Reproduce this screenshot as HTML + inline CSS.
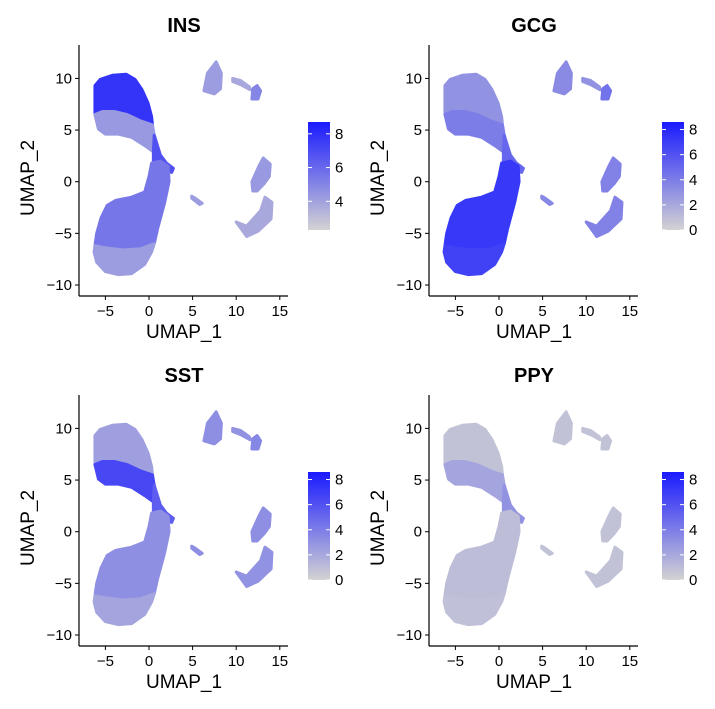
<!DOCTYPE html>
<html><head><meta charset="utf-8"><style>
body{margin:0;background:#fff;font-family:"Liberation Sans",sans-serif}
svg text{font-family:"Liberation Sans",sans-serif}
</style></head><body>
<svg id="c" width="715" height="704" xmlns="http://www.w3.org/2000/svg">
<defs><linearGradient id="g" x1="0" y1="1" x2="0" y2="0"><stop offset="0" stop-color="#d3d3d3"/><stop offset="1" stop-color="#1a1aff"/></linearGradient></defs>
</svg>
<script>
const genes=["INS","GCG","SST","PPY"];
const legendMin=[2.3,0,0,0];
const legendMax=[8.7,8.6,8.6,8.6];
const legendTicks=[[4,6,8],[0,2,4,6,8],[0,2,4,6,8],[0,2,4,6,8]];
const xTicks=[-5,0,5,10,15];
const yTicks=[-10,-5,0,5,10];
const clusterNames=["beta-top","upper-band","neck","lower-lobe","lower-bottom","top-cluster","arc","blob","c-shape","bottom-right","small-dot"];
const clusterShapes=[
 [[-6.2,9.3],[-5.6,9.9],[-4.2,10.3],[-2.6,10.4],[-1.6,9.9],[-0.8,8.9],[-0.1,7.6],[0.3,6.3],[0.4,5.5],[-1,5.9],[-2.5,6.5],[-4,6.8],[-5.3,6.8],[-6.2,6.5]],
 [[-6.2,6.5],[-5.3,6.8],[-4,6.8],[-2.5,6.5],[-1,5.9],[0.4,5.5],[0.6,4.5],[0.9,3.2],[0.5,2.9],[-0.5,3.5],[-2,4.3],[-3.5,4.6],[-5,4.6],[-5.8,5.1]],
 [[0.6,4.5],[1.3,2.6],[2,1.8],[2.8,1.3],[2.6,0.9],[1.6,1.4],[0.5,1.8],[0.5,2.9]],
 [[0.3,1.8],[1.3,2.0],[2.2,1.5],[2.3,0],[1.8,-2],[1,-4.5],[0.6,-6],[-1,-6.5],[-3,-6.6],[-5,-6.4],[-6.2,-6.2],[-6,-5],[-5.5,-3.5],[-4.8,-2.3],[-3.8,-1.8],[-2,-1.5],[-0.5,-1],[0,0.5]],
 [[-6.2,-6.2],[-5,-6.4],[-3,-6.6],[-1,-6.5],[0.6,-6],[0.3,-6.8],[-0.5,-8],[-2,-8.9],[-3.5,-9],[-5,-8.7],[-6,-7.8],[-6.3,-6.8]],
 [[6.3,8.8],[6.7,10.5],[7.7,11.6],[8.3,10.5],[8.2,9],[7.5,8.5]],
 [[9.6,10],[10.5,9.8],[11.5,9.2],[11.6,8.9],[10.5,9.4],[9.6,9.7]],
 [[11.8,8],[11.9,9],[12.4,9.3],[12.8,8.8],[12.5,8]],
 [[11.9,-0.9],[11.8,0],[12.6,1.5],[13.1,2.3],[13.9,1.7],[13.8,0.5],[13.2,-0.2],[12.4,-0.9]],
 [[10,-3.9],[11.2,-5.3],[12.5,-4.8],[14,-3.6],[14.1,-2],[13.3,-1.5],[12.8,-2.8],[11.2,-4.3]],
 [[4.9,-1.4],[5.3,-1.6],[6.1,-2.1],[5.8,-2.2],[4.9,-1.6]]
];
const exprINS=[7.8,4.3,6.8,5.5,4.2,4.2,3.8,5.0,4.3,3.8,4.2];
const exprGCG=[3.0,4.0,5.0,7.2,6.8,3.4,3.0,4.5,3.8,3.8,3.5];
const exprSST=[2.4,6.5,5.5,3.2,2.2,3.2,3.0,3.6,3.2,3.0,3.2];
const exprPPY=[0.8,2.2,3.0,1.0,0.9,0.8,0.8,0.8,0.8,0.8,0.8];
const exprAll=[exprINS,exprGCG,exprSST,exprPPY];

const svg=document.getElementById('c');
const NS="http://www.w3.org/2000/svg";
function mk(t,a,p){const e=document.createElementNS(NS,t);for(const k in a)e.setAttribute(k,a[k]);(p||svg).appendChild(e);return e;}
function col(v,mn,mx){let t=Math.max(0,Math.min(1,(v-mn)/(mx-mn)));const a=[211,211,211],b=[26,26,255];return `rgb(${a.map((c,i)=>Math.round(c+(b[i]-c)*t)).join(',')})`;}
genes.forEach((gn,gi)=>{
 const dx=(gi%2)*350,dy=Math.floor(gi/2)*350;
 const sx=x=>149+8.72*x+dx, sy=y=>181.7-10.33*y+dy;
 const g=mk('g',{});
 
 
 const t=mk('text',{x:184+dx,y:32+dy,'text-anchor':'middle','font-size':20,'font-weight':'bold'},g);t.textContent=gn;
 
 clusterShapes.forEach((s,ci)=>{
  const c=col(exprAll[gi][ci],legendMin[gi],legendMax[gi]);
  const p=mk('polygon',{points:s.map(q=>sx(q[0])+','+sy(q[1])).join(' '),fill:c,stroke:c,'stroke-width':3,'stroke-linejoin':'round'},g);
  
  
 });
 mk('line',{x1:79+dx,y1:45+dy,x2:79+dx,y2:296+dy,stroke:'#000','stroke-width':1.2},g);
 mk('line',{x1:79+dx,y1:296+dy,x2:288+dx,y2:296+dy,stroke:'#000','stroke-width':1.2},g);
 xTicks.forEach(v=>{mk('line',{x1:sx(v),x2:sx(v),y1:296+dy,y2:300+dy,stroke:'#000'},g);
  const l=mk('text',{x:sx(v),y:316+dy,'text-anchor':'middle','font-size':15},g);l.textContent=v<0?'\u2212'+(-v):v;
  });
 yTicks.forEach(v=>{mk('line',{x1:75+dx,x2:79+dx,y1:sy(v),y2:sy(v),stroke:'#000'},g);
  const l=mk('text',{x:72+dx,y:sy(v)+5,'text-anchor':'end','font-size':15},g);l.textContent=v<0?'\u2212'+(-v):v;
  });
 const xt=mk('text',{x:184+dx,y:338+dy,'text-anchor':'middle','font-size':19},g);xt.textContent='UMAP_1';
 
 const yt=mk('text',{x:0,y:0,'text-anchor':'middle','font-size':19,transform:`translate(${34+dx},${178+dy}) rotate(-90)`},g);yt.textContent='UMAP_2';
 
 const lx=gi%2?662:308, ly0=122+dy, ly1=230+dy;
 const r=mk('rect',{x:lx,y:ly0,width:22,height:ly1-ly0,fill:'url(#g)'},g);
 
 const ly=v=>ly1-(v-legendMin[gi])/(legendMax[gi]-legendMin[gi])*(ly1-ly0);
 legendTicks[gi].forEach(v=>{mk('line',{x1:lx,x2:lx+4,y1:ly(v),y2:ly(v),stroke:'#fff'},g);mk('line',{x1:lx+18,x2:lx+22,y1:ly(v),y2:ly(v),stroke:'#fff'},g);
  const l=mk('text',{x:lx+27,y:ly(v)+5,'font-size':15},g);l.textContent=v;
  });
});
</script>
</body></html>
